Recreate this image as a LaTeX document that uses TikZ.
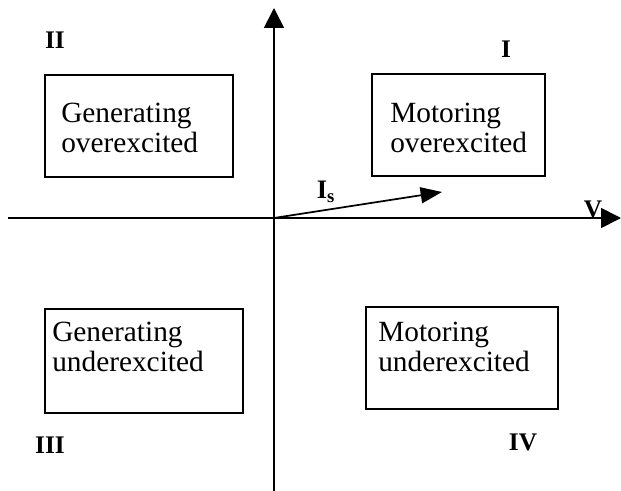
\documentclass[tikz,border=0pt]{standalone}
\usepackage{fontspec}
\setmainfont{Liberation Serif}
\usepackage{tikz}
\usetikzlibrary{arrows.meta,positioning}
\tikzset{
  axisline/.style={-{Triangle[length=15pt,width=15pt]},line width=1.3pt},
  phasor/.style={-{Triangle[length=16pt,width=12pt]},line width=1.3pt},
  regionbox/.style={draw,line width=1.3pt,inner sep=0pt},
  regiontext/.style={inner sep=0pt,align=left,
                     font=\fontsize{22pt}{22.5pt}\selectfont},
  quadlabel/.style={inner sep=0pt,font=\fontsize{19pt}{21pt}\selectfont\bfseries}
}

\begin{document}
\begin{tikzpicture}[x=0.75pt,y=-0.75pt]
    \path[use as bounding box] (0,0) rectangle (621,491);
    % axes
    \coordinate (origin) at (274,218);
    \coordinate (vleft) at (8,218);
    \coordinate (vright) at (621,218);
    \coordinate (qbottom) at (274,491);
    \coordinate (qtop) at (274,8);
    \coordinate (istip) at (442,192);
    \draw[axisline] (vleft) -- (vright);
    \draw[axisline] (qbottom) -- (qtop);
    \draw[phasor] (origin) -- (istip);
    \node[quadlabel] (vlab) at (593,209) {V};
    \node[font=\fontsize{20pt}{22pt}\selectfont\bfseries,inner sep=0pt]
      (islab) at (326,192) {I$_{\mathbf{s}}$};

    % operating regions (sizes in pt, 0.75pt per unit)
    \node[regionbox,minimum width=141pt,minimum height=76.5pt] (genover) at (139,126) {};
    \node[regionbox,minimum width=129.75pt,minimum height=76.5pt] (motover) at (458.5,125) {};
    \node[regionbox,minimum width=148.5pt,minimum height=78pt] (genunder) at (144,361) {};
    \node[regionbox,minimum width=144pt,minimum height=76.5pt] (motunder) at (462,358) {};
    \node[regiontext,anchor=base west] (genovertxt) at (61,153) {Generating\\overexcited};
    \node[regiontext,anchor=base west] (motovertxt) at (390,153) {Motoring\\overexcited};
    \node[regiontext,anchor=base west] (genundertxt) at (52,372) {Generating\\underexcited};
    \node[regiontext,anchor=base west] (motundertxt) at (378,372) {Motoring\\underexcited};

    % quadrant numbers
    \node[quadlabel] (qone) at (506,49) {I};
    \node[quadlabel] (qtwo) at (55,40) {II};
    \node[quadlabel] (qthree) at (50,445) {III};
    \node[quadlabel] (qfour) at (523,442) {IV};
\end{tikzpicture}
\end{document}
